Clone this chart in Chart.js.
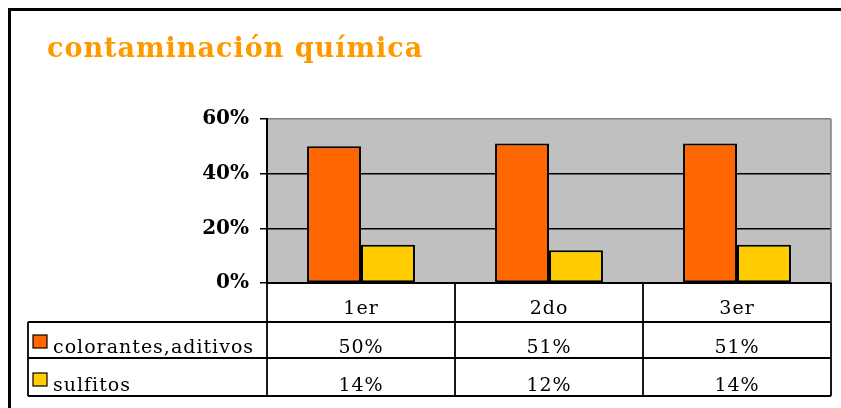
<!DOCTYPE html>
<html>
<head>
<meta charset="utf-8">
<script src="https://cdn.jsdelivr.net/npm/chart.js@4"></script>
<style>
  html, body { margin: 0; padding: 0; background: #fff; }
  #wrap { width: 841px; height: 408px; position: relative; }
</style>
</head>
<body>
<div id="wrap"><canvas id="data-graph" width="841" height="408"></canvas></div>
<script>
const titleText = 'contaminación química';
const categories = ['1er', '2do', '3er'];
const seriesNames = ['colorantes,aditivos', 'sulfitos'];
const colorantes = [0.50, 0.51, 0.51];
const sulfitos = [0.14, 0.12, 0.14];
const yTicks = [0, 0.2, 0.4, 0.6];
const seriesColors = ['#FF6600', '#FFCC00'];

const serif = "'DejaVu Serif', serif";
const pct = v => Math.round(v * 100) + '%';

// grey plot background, title, outer frame
const framePlugin = {
    id: 'frame',
    beforeDraw(chart) {
        const c = chart.ctx, a = chart.chartArea;
        c.save();
        c.fillStyle = '#C0C0C0';
        c.fillRect(a.left, a.top, a.right - a.left, a.bottom - a.top);
        c.restore();
    },
    afterDraw(chart) {
        const c = chart.ctx, a = chart.chartArea;
        c.save();
        c.strokeStyle = '#000';
        c.lineWidth = 3;
        c.strokeRect(9.5, 9.5, 900, 500);
        c.fillStyle = '#FF9900';
        c.font = 'bold 27px ' + serif;
        c.letterSpacing = '1px';
        c.textBaseline = 'alphabetic';
        c.fillText(titleText, 47, 57);
        // grey right border of plot
        c.strokeStyle = '#808080';
        c.lineWidth = 1.5;
        c.beginPath();
        c.moveTo(a.right, a.top);
        c.lineTo(a.right, a.bottom);
        c.stroke();
        c.restore();
    }
};

// data table under the plot
const tablePlugin = {
    id: 'dataTable',
    afterDraw(chart) {
        const c = chart.ctx, a = chart.chartArea, x = chart.scales.x;
        const rows = [a.bottom, 322, 358, 396];
        const tableLeft = 28;
        const half = (x.getPixelForValue(1) - x.getPixelForValue(0)) / 2;
        c.save();
        c.strokeStyle = '#000';
        c.lineWidth = 1.8;
        c.beginPath();
        for (let i = 1; i < rows.length; i++) {
            c.moveTo(tableLeft, rows[i]);
            c.lineTo(a.right, rows[i]);
        }
        c.moveTo(tableLeft, rows[1]);
        c.lineTo(tableLeft, rows[3]);
        for (let i = 0; i <= categories.length; i++) {
            const px = i < categories.length ? x.getPixelForValue(i) - half : a.right;
            c.moveTo(px, a.bottom);
            c.lineTo(px, rows[3]);
        }
        c.stroke();

        c.fillStyle = '#000';
        c.font = '19px ' + serif;
        c.letterSpacing = '1px';
        c.textAlign = 'center';
        c.textBaseline = 'alphabetic';
        categories.forEach((cat, i) => {
            c.fillText(cat, x.getPixelForValue(i), 314);
        });
        const data = [colorantes, sulfitos];
        data.forEach((vals, r) => {
            vals.forEach((v, i) => {
                c.fillText(pct(v), x.getPixelForValue(i), rows[r + 2] - 5);
            });
        });
        c.textAlign = 'left';
        seriesNames.forEach((name, r) => {
            const bottom = rows[r + 2];
            c.fillStyle = seriesColors[r];
            c.fillRect(33, bottom - 23, 14, 13);
            c.lineWidth = 1.2;
            c.strokeRect(33, bottom - 23, 14, 13);
            c.fillStyle = '#000';
            c.fillText(name, 53, bottom - 5);
        });
        c.restore();
    }
};

const chart = document.getElementById('data-graph').getContext('2d');
const resultChart = new Chart(chart, {
    type: 'bar',
    data: {
        labels: categories,
        datasets: [{
            label: seriesNames[0],
            data: colorantes,
            backgroundColor: seriesColors[0],
            borderColor: '#000',
            borderWidth: 2,
            borderSkipped: false,
        }, {
            label: seriesNames[1],
            data: sulfitos,
            backgroundColor: seriesColors[1],
            borderColor: '#000',
            borderWidth: 2,
            borderSkipped: false,
        }]
    },
    options: {
        responsive: false,
        animation: false,
        layout: { padding: { top: 119, left: 0, right: 10, bottom: 0 } },
        datasets: { bar: { categoryPercentage: 0.574, barPercentage: 1 } },
        plugins: {
            legend: { display: false },
            tooltip: { enabled: false },
            title: { display: false },
        },
        scales: {
            x: {
                grid: { display: false },
                ticks: { display: false },
                border: { display: true, color: '#000', width: 2 },
                afterFit(scale) { scale.height = 125; }
            },
            y: {
                min: 0,
                max: 0.6,
                afterBuildTicks(scale) { scale.ticks = yTicks.map(v => ({ value: v })); },
                afterFit(scale) { scale.width = 267; },
                ticks: {
                    callback: v => pct(v),
                    color: '#000',
                    padding: 11,
                    font: { family: serif, size: 20, weight: 'bold' },
                },
                grid: {
                    color: ctx => (ctx.tick && ctx.tick.value === 0.6) ? '#808080' : '#000',
                    lineWidth: 1.5,
                    tickLength: 7,
                    tickColor: '#000',
                },
                border: { display: true, color: '#000', width: 2 },
            }
        }
    },
    plugins: [framePlugin, tablePlugin]
});
</script>
</body>
</html>
